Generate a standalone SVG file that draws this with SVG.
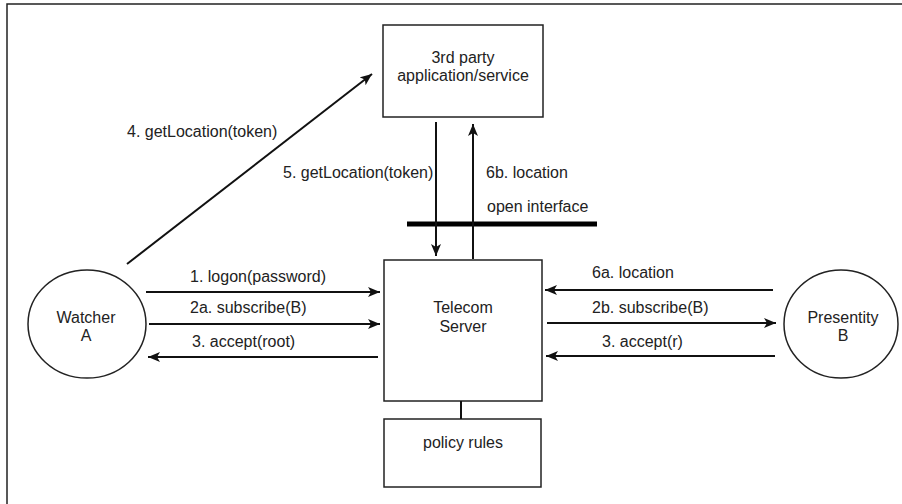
<svg xmlns="http://www.w3.org/2000/svg" width="902" height="504" viewBox="0 0 902 504">
<style>
.box{fill:#fff;stroke:#222;stroke-width:1.5}
.t{font-family:"Liberation Sans",Arial,sans-serif;font-size:16px;fill:#222}
.c{text-anchor:middle}
.ln{stroke:#111;stroke-width:2;fill:none}
.arr{stroke:#111;stroke-width:2;fill:none;marker-end:url(#ah)}
</style>
<defs>
<marker id="ah" markerUnits="userSpaceOnUse" markerWidth="14" markerHeight="12" refX="12" refY="5" orient="auto">
<path d="M0,0 L12,5 L0,10 L3,5 Z" fill="#111"/>
</marker>
</defs>
<rect width="902" height="504" fill="#fff"/>
<g id="frame">
<path d="M7,504 L7,4 L902,4" stroke="#222" stroke-width="1.5" fill="none"/>
</g>
<g id="third-party">
<rect class="box" x="383" y="25" width="160" height="92"/>
<text class="t c" x="463" y="63">3rd party</text>
<text class="t c" x="463" y="81">application/service</text>
</g>
<g id="telecom-server">
<rect class="box" x="384" y="260" width="158" height="141"/>
<text class="t c" x="463" y="313">Telecom</text>
<text class="t c" x="463" y="332">Server</text>
</g>
<g id="policy-rules">
<rect class="box" x="384" y="419" width="157" height="68"/>
<text class="t c" x="463" y="448">policy rules</text>
</g>
<g id="watcher-a">
<ellipse class="box" cx="87" cy="324" rx="59" ry="54"/>
<text class="t c" x="86" y="323">Watcher</text>
<text class="t c" x="86" y="341">A</text>
</g>
<g id="presentity-b">
<ellipse class="box" cx="841" cy="324" rx="57" ry="54"/>
<text class="t c" x="843" y="323">Presentity</text>
<text class="t c" x="843" y="341">B</text>
</g>
<g id="open-interface">
<rect x="407" y="221.5" width="190" height="5" fill="#000"/>
<text class="t" x="487" y="212">open interface</text>
</g>
<g id="connectors">
<line class="arr" x1="127" y1="264" x2="372" y2="74"/>
<line class="arr" x1="436" y1="122" x2="436" y2="256"/>
<line class="arr" x1="473" y1="259" x2="473" y2="124"/>
<line class="ln" x1="461" y1="401" x2="461" y2="419"/>
<line class="arr" x1="146" y1="292" x2="380" y2="292"/>
<line class="arr" x1="149" y1="324" x2="380" y2="324"/>
<line class="arr" x1="378" y1="357" x2="148" y2="357"/>
<line class="arr" x1="773" y1="290" x2="545" y2="290"/>
<line class="arr" x1="547" y1="323" x2="776" y2="323"/>
<line class="arr" x1="775" y1="356" x2="546" y2="356"/>
<text class="t" x="127" y="137">4. getLocation(token)</text>
<text class="t" x="283" y="178">5. getLocation(token)</text>
<text class="t" x="486" y="178">6b. location</text>
<text class="t" x="190" y="282">1. logon(password)</text>
<text class="t" x="190" y="313">2a. subscribe(B)</text>
<text class="t" x="192" y="347">3. accept(root)</text>
<text class="t" x="592" y="278">6a. location</text>
<text class="t" x="592" y="313">2b. subscribe(B)</text>
<text class="t" x="602" y="347">3. accept(r)</text>
</g>
</svg>
